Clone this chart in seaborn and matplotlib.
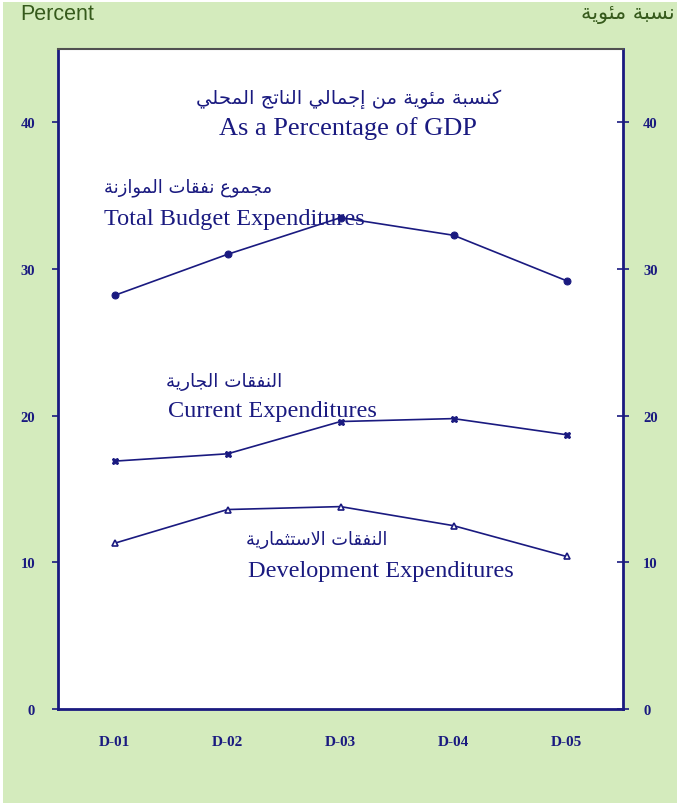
import numpy as np
import pandas as pd
import seaborn as sns
import matplotlib.pyplot as plt
from matplotlib.patches import Rectangle

# data
years = ["D-01", "D-02", "D-03", "D-04", "D-05"]
total_exp = [28.2, 31.0, 33.5, 32.3, 29.2]
current_exp = [16.9, 17.4, 19.6, 19.8, 18.7]
development_exp = [11.3, 13.6, 13.8, 12.5, 10.4]
y_ticks = [0, 10, 20, 30, 40]

# simple arabic shaping (presentation forms B, visual order)
DUAL = {'ئ': 0xFE89, 'ب': 0xFE8F, 'ت': 0xFE95, 'ث': 0xFE99, 'ج': 0xFE9D, 'ح': 0xFEA1,
        'خ': 0xFEA5, 'س': 0xFEB1, 'ش': 0xFEB5, 'ص': 0xFEB9, 'ض': 0xFEBD, 'ط': 0xFEC1,
        'ظ': 0xFEC5, 'ع': 0xFEC9, 'غ': 0xFECD, 'ف': 0xFED1, 'ق': 0xFED5, 'ك': 0xFED9,
        'ل': 0xFEDD, 'م': 0xFEE1, 'ن': 0xFEE5, 'ه': 0xFEE9, 'ي': 0xFEF1}
RIGHT = {'آ': 0xFE81, 'أ': 0xFE83, 'ؤ': 0xFE85, 'إ': 0xFE87, 'ا': 0xFE8D, 'ة': 0xFE93,
         'د': 0xFEA9, 'ذ': 0xFEAB, 'ر': 0xFEAD, 'ز': 0xFEAF, 'و': 0xFEED, 'ى': 0xFEEF,
         '\uE000': 0xFEFB}


def shape(text):
    s = text.replace('لا', '\uE000')
    out = []
    for i, ch in enumerate(s):
        if ch in DUAL:
            base, dual = DUAL[ch], True
        elif ch in RIGHT:
            base, dual = RIGHT[ch], False
        else:
            out.append(ch)
            continue
        prev = s[i - 1] if i > 0 else ''
        nxt = s[i + 1] if i + 1 < len(s) else ''
        join_prev = prev in DUAL
        join_next = dual and (nxt in DUAL or nxt in RIGHT)
        if join_prev and join_next:
            off = 3
        elif join_prev:
            off = 1
        elif join_next:
            off = 2
        else:
            off = 0
        out.append(chr(base + off))
    return ''.join(reversed(out))


sns.set_style("white")
plt.rcParams['font.family'] = ['Liberation Serif', 'DejaVu Sans']

navy = "#1a1a80"
bg = "#d4ebbd"

fig = plt.figure(figsize=(6.77, 8.04), dpi=100, facecolor="white")
fig.patches.append(Rectangle((3 / 677, 0), 1, 1 - 3 / 804, transform=fig.transFigure,
                             facecolor=bg, edgecolor="none", zorder=-10))
ax = fig.add_axes([58 / 677, 1 - 710 / 804, 565 / 677, 660 / 804])
ax.set_facecolor("white")

df = pd.DataFrame({"year": years, "total": total_exp, "current": current_exp,
                   "development": development_exp})

sns.lineplot(data=df, x="year", y="total", ax=ax, color=navy, lw=1.2, marker="o",
             markersize=5, markeredgecolor=navy, sort=False)
sns.lineplot(data=df, x="year", y="current", ax=ax, color=navy, lw=1.2, marker="X",
             markersize=5, markeredgecolor=navy, sort=False)
sns.lineplot(data=df, x="year", y="development", ax=ax, color=navy, lw=1.2, marker="^",
             markersize=5, markerfacecolor="white", markeredgecolor=navy,
             markeredgewidth=1.2, sort=False)

ax.set_xlim(-0.5, 4.5)
ax.set_ylim(0, 45)
ax.set_xlabel("")
ax.set_ylabel("")
ax.set_yticks(y_ticks)
ax.set_yticklabels([str(t) for t in y_ticks], fontsize=10.5, fontweight="bold", color=navy)
ax.set_xticks(np.arange(-0.5, 5, 1))
ax.set_xticklabels([])
ax.set_xticks(range(len(years)), minor=True)
ax.set_xticklabels(years, minor=True, fontsize=11, fontweight="bold", color=navy)
ax.tick_params(axis="x", which="major", direction="out", length=5, width=1.2, color=navy)
ax.tick_params(axis="x", which="minor", length=0, pad=19)
ax.tick_params(axis="y", direction="out", length=4, width=1.2, color=navy, pad=12.5)

for side in ["left", "right", "bottom"]:
    ax.spines[side].set_color(navy)
    ax.spines[side].set_linewidth(2)
ax.spines["top"].set_color("#505050")
ax.spines["top"].set_linewidth(1.5)

ax2 = ax.twinx()
ax2.set_ylim(0, 45)
ax2.set_yticks(y_ticks)
ax2.set_yticklabels([str(t) for t in y_ticks], fontsize=10.5, fontweight="bold", color=navy)
ax2.tick_params(axis="y", direction="inout", length=9, width=1.2, color=navy, pad=10)
for sp in ax2.spines.values():
    sp.set_visible(False)

# titles and series labels
ax.text(2.07, 41.3, shape("كنسبة مئوية من إجمالي الناتج المحلي"), ha="center",
        va="baseline", fontsize=14, color=navy, family="DejaVu Sans")
ax.text(2.07, 39.2, "As a Percentage of GDP", ha="center", va="baseline",
        fontsize=19, color=navy)

ax.text((273 - 115) / 113, 35.3, shape("مجموع نفقات الموازنة"), ha="right",
        va="baseline", fontsize=13, color=navy, family="DejaVu Sans")
ax.text((104 - 115) / 113, 33.05, "Total Budget Expenditures", ha="left",
        va="baseline", fontsize=17.5, color=navy)

ax.text((283 - 115) / 113, 22.0, shape("النفقات الجارية"), ha="right",
        va="baseline", fontsize=13.2, color=navy, family="DejaVu Sans")
ax.text((168 - 115) / 113, 19.97, "Current Expenditures", ha="left",
        va="baseline", fontsize=17.5, color=navy)

ax.text((388 - 115) / 113, 11.24, shape("النفقات الاستثمارية"), ha="right",
        va="baseline", fontsize=12.8, color=navy, family="DejaVu Sans")
ax.text((248 - 115) / 113, 9.06, "Development Expenditures", ha="left",
        va="baseline", fontsize=17.5, color=navy)

fig.text(20 / 677, 1 - 14 / 804, "Percent", ha="left", va="center", fontsize=15.5,
         color="#365a1c", family="Liberation Sans")
fig.text(675 / 677, 1 - 14 / 804, shape("نسبة مئوية"), ha="right", va="center",
         fontsize=15, color="#365a1c", family="DejaVu Sans")

fig.savefig("out.png", dpi=100, facecolor=fig.get_facecolor())
